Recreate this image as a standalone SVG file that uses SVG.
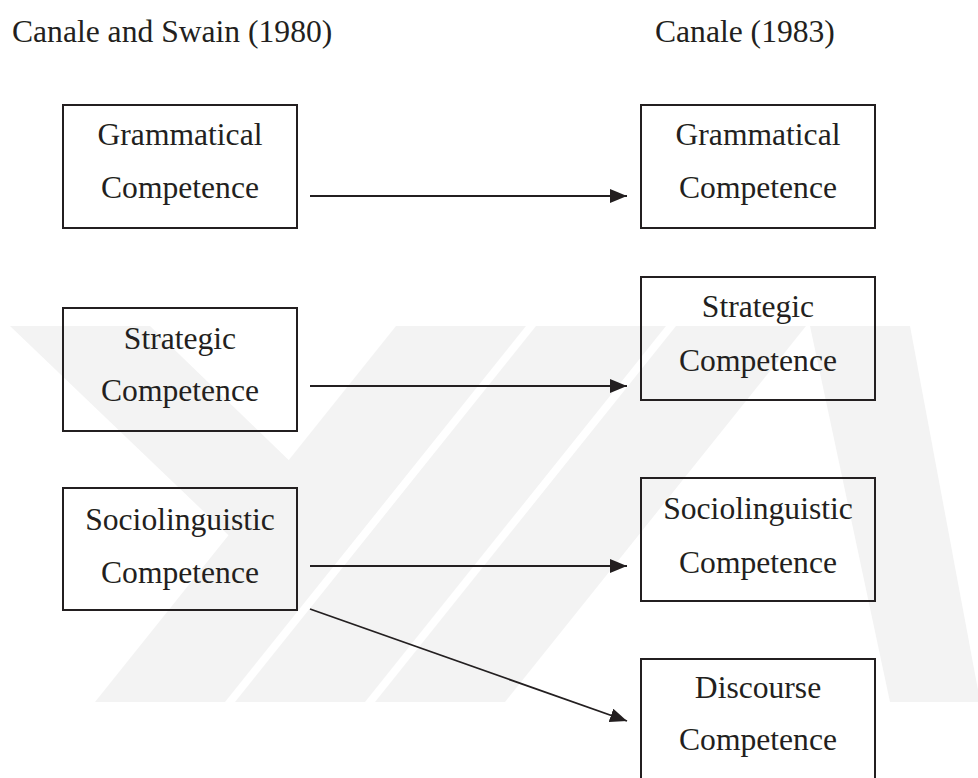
<svg xmlns="http://www.w3.org/2000/svg" width="978" height="778" viewBox="0 0 978 778">
<defs>
<style>
.box{fill:none;stroke:#231f20;stroke-width:2}
.t{font-family:"Liberation Serif","Times New Roman",serif;font-size:31.6px;fill:#231f20;text-anchor:middle}
.h{font-family:"Liberation Serif","Times New Roman",serif;font-size:31.6px;fill:#231f20}
.c{stroke:#231f20;stroke-width:1.8;fill:none;marker-end:url(#ah)}
.wm{fill:#f3f3f3}
</style>
<marker id="ah" markerUnits="userSpaceOnUse" markerWidth="18" markerHeight="14" refX="17" refY="7" orient="auto">
<path d="M0,0 L17,7 L0,14 Z" fill="#231f20"/>
</marker>
</defs>
<rect width="978" height="778" fill="#ffffff"/>
<g id="watermark">
<polygon class="wm" points="10,326 150,326 330,500 270,575"/>
<polygon class="wm" points="95,702 225,702 526,326 396,326"/>
<polygon class="wm" points="235,702 365,702 666,326 536,326"/>
<polygon class="wm" points="375,702 505,702 806,326 676,326"/>
<polygon class="wm" points="810,326 910,326 978,690 978,702 890,702"/>
</g>
<g id="headers">
<text class="h" x="12" y="42">Canale and Swain (1980)</text>
<text class="h" x="655" y="42">Canale (1983)</text>
</g>
<g id="connectors">
<line class="c" x1="310" y1="196" x2="627" y2="196"/>
<line class="c" x1="310" y1="386" x2="627" y2="386"/>
<line class="c" x1="310" y1="566" x2="627" y2="566"/>
<line class="c" x1="310" y1="609" x2="627" y2="721"/>
</g>
<g id="n-gram-1980">
<rect class="box" x="63" y="105" width="234" height="123"/>
<text class="t" x="180" y="145">Grammatical</text>
<text class="t" x="180" y="198">Competence</text>
</g>
<g id="n-strat-1980">
<rect class="box" x="63" y="308" width="234" height="123"/>
<text class="t" x="180" y="349">Strategic</text>
<text class="t" x="180" y="401">Competence</text>
</g>
<g id="n-socio-1980">
<rect class="box" x="63" y="488" width="234" height="122"/>
<text class="t" x="180" y="530">Sociolinguistic</text>
<text class="t" x="180" y="583">Competence</text>
</g>
<g id="n-gram-1983">
<rect class="box" x="641" y="105" width="234" height="123"/>
<text class="t" x="758" y="145">Grammatical</text>
<text class="t" x="758" y="198">Competence</text>
</g>
<g id="n-strat-1983">
<rect class="box" x="641" y="277" width="234" height="123"/>
<text class="t" x="758" y="317">Strategic</text>
<text class="t" x="758" y="371">Competence</text>
</g>
<g id="n-socio-1983">
<rect class="box" x="641" y="478" width="234" height="123"/>
<text class="t" x="758" y="519">Sociolinguistic</text>
<text class="t" x="758" y="573">Competence</text>
</g>
<g id="n-disc-1983">
<rect class="box" x="641" y="659" width="234" height="123"/>
<text class="t" x="758" y="698">Discourse</text>
<text class="t" x="758" y="750">Competence</text>
</g>
</svg>
